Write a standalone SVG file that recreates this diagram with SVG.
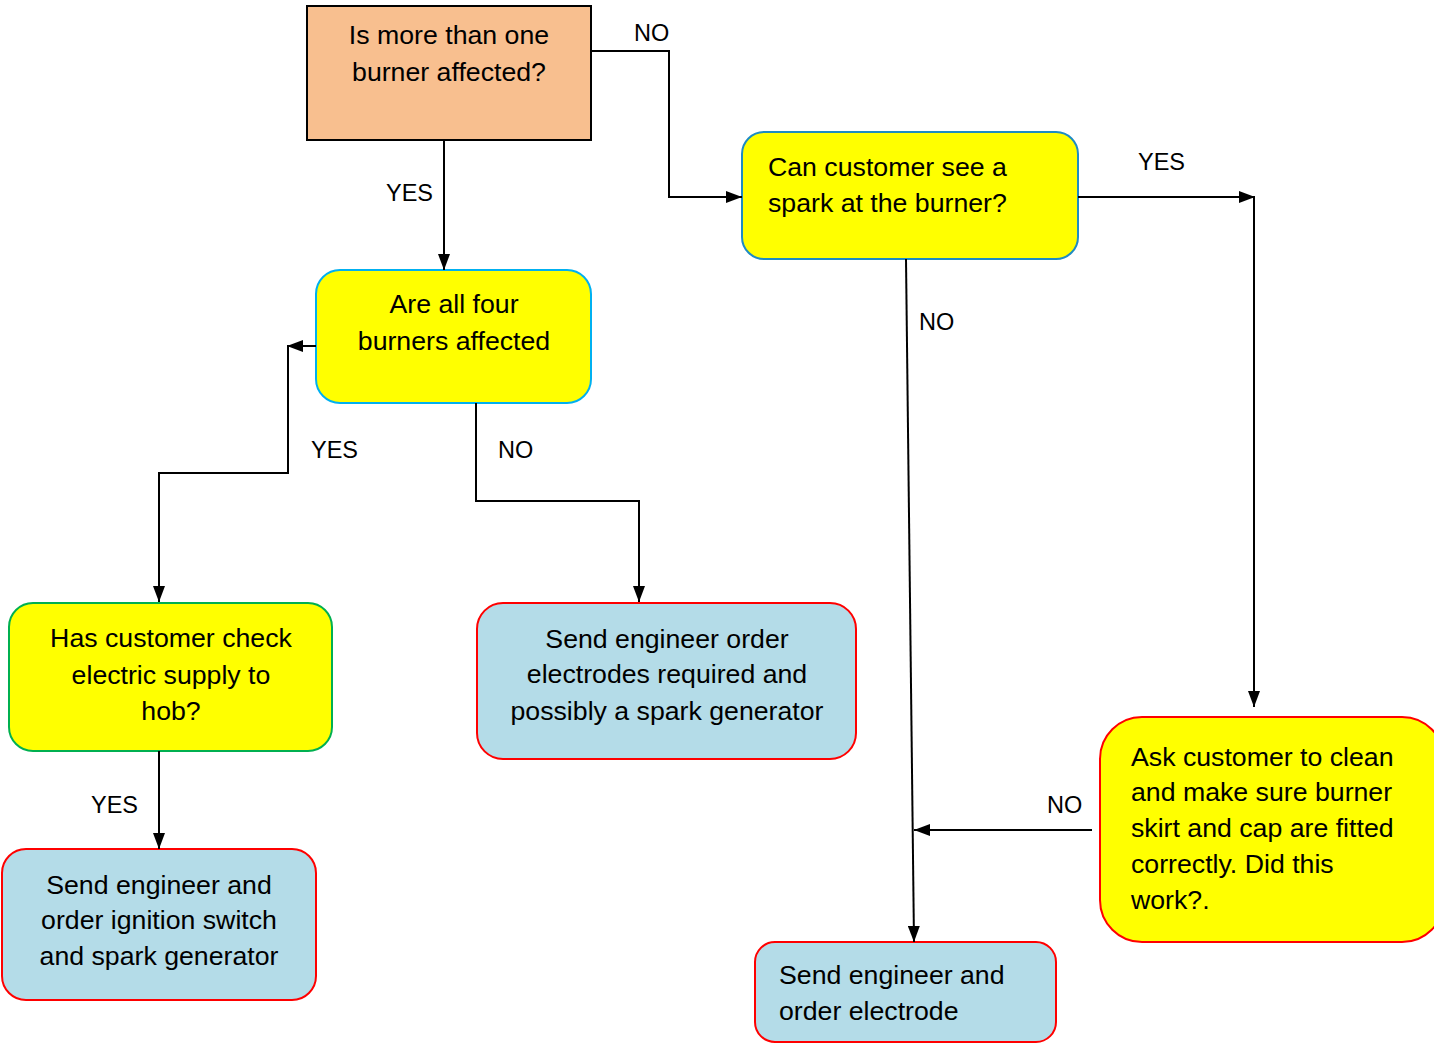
<svg xmlns="http://www.w3.org/2000/svg" width="1434" height="1044" viewBox="0 0 1434 1044">
<style>
text{font-family:"Liberation Sans",Arial,sans-serif;font-size:26.7px;fill:#000}
.c{text-anchor:middle}
.lbl{font-size:23.5px}
.yel{fill:#FFFF00}
.blu{fill:#B4DCE8;stroke:#FF0000;stroke-width:2}
.ln{fill:none;stroke:#000;stroke-width:2}
</style>
<defs>
<marker id="ah" viewBox="0 0 16 12" refX="16" refY="6" markerWidth="16" markerHeight="12" markerUnits="userSpaceOnUse" orient="auto">
<path d="M0,0 L16,6 L0,12 Z" fill="#000"/>
</marker>
</defs>
<rect width="1434" height="1044" fill="#fff"/>
<g id="n1">
<rect x="307" y="6" width="284" height="134" fill="#F8BF8F" stroke="#000" stroke-width="2"/>
<text class="c" x="449" y="44">Is more than one</text>
<text class="c" x="449" y="81">burner affected?</text>
</g>
<g id="n2">
<rect x="742" y="132" width="336" height="127" rx="22" class="yel" stroke="#1E8BC3" stroke-width="2"/>
<text x="768" y="176">Can customer see a</text>
<text x="768" y="212">spark at the burner?</text>
</g>
<g id="n3">
<rect x="316" y="270" width="275" height="133" rx="24" class="yel" stroke="#00B0F0" stroke-width="2"/>
<text class="c" x="454" y="313">Are all four</text>
<text class="c" x="454" y="350">burners affected</text>
</g>
<g id="n4">
<rect x="9" y="603" width="323" height="148" rx="24" class="yel" stroke="#00B050" stroke-width="2"/>
<text class="c" x="171" y="647">Has customer check</text>
<text class="c" x="171" y="684">electric supply to</text>
<text class="c" x="171" y="720">hob?</text>
</g>
<g id="n5">
<rect x="477" y="603" width="379" height="156" rx="26" class="blu"/>
<text class="c" x="667" y="648">Send engineer order</text>
<text class="c" x="667" y="683">electrodes required and</text>
<text class="c" x="667" y="720">possibly a spark generator</text>
</g>
<g id="n6">
<rect x="2" y="849" width="314" height="151" rx="24" class="blu"/>
<text class="c" x="159" y="894">Send engineer and</text>
<text class="c" x="159" y="929">order ignition switch</text>
<text class="c" x="159" y="965">and spark generator</text>
</g>
<g id="n7">
<rect x="1100" y="717" width="344" height="225" rx="42" class="yel" stroke="#FF0000" stroke-width="2"/>
<text x="1131" y="766">Ask customer to clean</text>
<text x="1131" y="801">and make sure burner</text>
<text x="1131" y="837">skirt and cap are fitted</text>
<text x="1131" y="873">correctly. Did this</text>
<text x="1131" y="909">work?.</text>
</g>
<g id="n8">
<rect x="755" y="942" width="301" height="100" rx="20" class="blu"/>
<text x="779" y="984">Send engineer and</text>
<text x="779" y="1020">order electrode</text>
</g>
<g id="connectors">
<polyline class="ln" points="591,51 669,51 669,197 742,197" marker-end="url(#ah)"/>
<line class="ln" x1="444" y1="140" x2="444" y2="270" marker-end="url(#ah)"/>
<line class="ln" x1="316" y1="346" x2="287" y2="346" marker-end="url(#ah)"/>
<polyline class="ln" points="288,346 288,473 159,473 159,602" marker-end="url(#ah)"/>
<polyline class="ln" points="476,403 476,501 639,501 639,602" marker-end="url(#ah)"/>
<line class="ln" x1="1078" y1="197" x2="1255" y2="197" marker-end="url(#ah)"/>
<line class="ln" x1="1254" y1="197" x2="1254" y2="707" marker-end="url(#ah)"/>
<line class="ln" x1="906" y1="259" x2="914" y2="942" marker-end="url(#ah)"/>
<line class="ln" x1="1092" y1="830" x2="914" y2="830" marker-end="url(#ah)"/>
<line class="ln" x1="159" y1="751" x2="159" y2="849" marker-end="url(#ah)"/>
<text class="lbl" x="634" y="41">NO</text>
<text class="lbl" x="386" y="201">YES</text>
<text class="lbl" x="311" y="458">YES</text>
<text class="lbl" x="498" y="458">NO</text>
<text class="lbl" x="1138" y="170">YES</text>
<text class="lbl" x="919" y="330">NO</text>
<text class="lbl" x="1047" y="813">NO</text>
<text class="lbl" x="91" y="813">YES</text>
</g>
</svg>
